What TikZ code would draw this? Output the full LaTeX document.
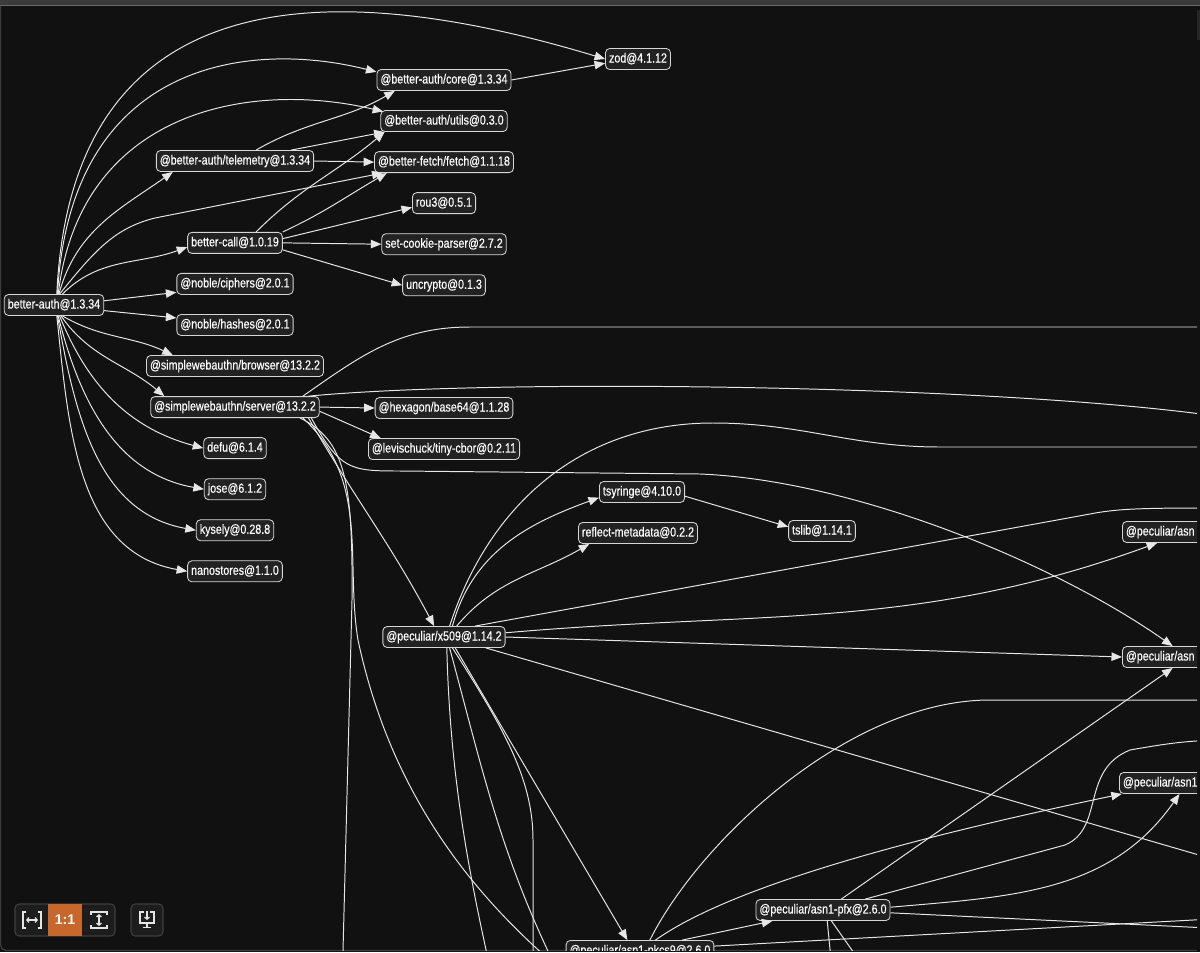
\documentclass[tikz,border=0pt]{standalone}
\usepackage{fontspec}
\usepackage{tikz}
\usetikzlibrary{positioning}
\usetikzlibrary{arrows.meta}
\setsansfont{Liberation Sans}
\newfontfamily\pkgfont[FakeStretch=0.81,FakeBold=0.4]{Liberation Sans}

\definecolor{canvas}{HTML}{111111}
\definecolor{topbar}{HTML}{3B3B3B}
\definecolor{pkgfill}{HTML}{222222}
\definecolor{pkgline}{HTML}{D6D6D6}
\definecolor{wirecol}{HTML}{E6E6E6}
\definecolor{btnline}{HTML}{3E3E3E}
\definecolor{btnfill}{HTML}{1D1D1D}
\definecolor{active}{HTML}{C7672B}

\begin{document}
\begin{tikzpicture}[x=0.025cm,y=-0.025cm,node distance=0.48cm,
    pkg/.style={draw=pkgline,fill=pkgfill,text=white,rounded corners=3pt,line width=0.6pt,
      inner xsep=2.5pt,inner ysep=0pt,minimum height=0.525cm,text height=7pt,text depth=2pt,
      font=\pkgfont\fontsize{9.4}{11}\selectfont},
    pkgcut/.style={pkg,anchor=west,text width=3.6cm,align=left},
    dep/.style={draw=wirecol,line width=0.7pt,-{Triangle[length=7.5pt,width=6pt]}},
    link/.style={draw=wirecol,line width=0.7pt},
    icon/.style={draw=white!90!black,line width=0.9pt}]
	\useasboundingbox (0,0) rectangle (1200,952);
	\fill[canvas] (0,0) rectangle (1200,952);
	\fill[topbar] (0,0) rectangle (1200,5);
	\draw[black!60!white,line width=0.6pt] (0,5.5) -- (1200,5.5);
	\fill[black!85!white] (1197,10) rectangle (1200,40);
	\draw[btnline,line width=0.8pt,rounded corners=4pt] (0.5,6) -- (0.5,950.5) -- (1197,950.5);

	\begin{scope}
		\clip (1,6) rectangle (1197,950);
		% packages
		\node[pkg] (ba) at (54,305) {better-auth@1.3.34};
		\node[pkg] (zod) at (638,59) {zod@4.1.12};
		\node[pkg] (core) at (444,80) {@better-auth/core@1.3.34};
		\node[pkg,below=of core] (utils) {@better-auth/utils@0.3.0};
		\node[pkg,below=of utils] (fetch) {@better-fetch/fetch@1.1.18};
		\node[pkg,below=of fetch] (rou) {rou3@0.5.1};
		\node[pkg,below=of rou] (scp) {set-cookie-parser@2.7.2};
		\node[pkg,below=of scp] (uncrypto) {uncrypto@0.1.3};
		\node[pkg] (tele) at (235,161) {@better-auth/telemetry@1.3.34};
		\node[pkg,below=1.5cm of tele] (call) {better-call@1.0.19};
		\node[pkg,below=of call] (ciphers) {@noble/ciphers@2.0.1};
		\node[pkg,below=of ciphers] (hashes) {@noble/hashes@2.0.1};
		\node[pkg,below=of hashes] (browser) {@simplewebauthn/browser@13.2.2};
		\node[pkg,below=of browser] (server) {@simplewebauthn/server@13.2.2};
		\node[pkg,below=of server] (defu) {defu@6.1.4};
		\node[pkg,below=of defu] (jose) {jose@6.1.2};
		\node[pkg,below=of jose] (kysely) {kysely@0.28.8};
		\node[pkg,below=of kysely] (nano) {nanostores@1.1.0};
		\node[pkg] (base64) at (444,408) {@hexagon/base64@1.1.28};
		\node[pkg,below=of base64] (cbor) {@levischuck/tiny-cbor@0.2.11};
		\node[pkg] (tsyringe) at (642,492) {tsyringe@4.10.0};
		\node[pkg] (reflect) at (638,533) {reflect-metadata@0.2.2};
		\node[pkg] (tslib) at (822,531) {tslib@1.14.1};
		\node[pkg] (x509) at (444,637) {@peculiar/x509@1.14.2};
		\node[pkgcut] (asnA) at (1122,532) {@peculiar/asn};
		\node[pkgcut] (asnB) at (1122,657) {@peculiar/asn};
		\node[pkgcut] (asnC) at (1119,783) {@peculiar/asn1};
		\node[pkg] (pfx) at (823,910) {@peculiar/asn1-pfx@2.6.0};
		\node[pkg] (pkcs9) at (640,951) {@peculiar/asn1-pkcs9@2.6.0};

		% ends outside the view
		\coordinate (rA) at (1230,327);
		\coordinate (rB) at (1230,418);
		\coordinate (rC) at (1230,447);
		\coordinate (rD) at (1230,508);
		\coordinate (rE) at (1230,700);
		\coordinate (rF) at (1230,740);
		\coordinate (rG) at (1230,864);
		\coordinate (rH) at (1230,918);
		\coordinate (rI) at (1230,929);
		\coordinate (bA) at (342,990);
		\coordinate (bB) at (586,990);
		\coordinate (bC) at (495,990);
		\coordinate (bD) at (567,990);
		\coordinate (bE) at (533,990);
		\coordinate (bF) at (834,990);
		\coordinate (bG) at (880,990);

		% better-auth
		\draw[dep] ([xshift=2pt]ba.north) .. controls (72,-40) and (360,-15) .. (zod.west);
		\draw[dep] ([xshift=2.5pt]ba.north) .. controls (70,60) and (250,40) .. ([yshift=-2pt]core.north west);
		\draw[dep] ([xshift=3pt]ba.north) .. controls (80,110) and (250,80) .. ([xshift=2pt,yshift=-1pt]utils.north west);
		\draw[dep] ([xshift=3.5pt]ba.north) to[out=75,in=215] ([xshift=12pt]tele.south west);
		\draw[dep] ([xshift=4pt]ba.north) .. controls (95,250) and (115,228) .. (155,218) -- ([xshift=6pt]fetch.south west);
		\draw[dep] ([xshift=6pt]ba.north) to[out=45,in=200] ([yshift=-3pt]call.west);
		\draw[dep] ([yshift=3pt]ba.east) -- ([yshift=-6pt]ciphers.west);
		\draw[dep] ([yshift=-4pt]ba.east) -- ([yshift=5pt]hashes.west);
		\draw[dep] ([xshift=6pt]ba.south) to[out=-30,in=155] ([xshift=19pt]browser.north west);
		\draw[dep] ([xshift=5pt]ba.south) to[out=-55,in=140] ([xshift=10pt]server.north west);
		\draw[dep] ([xshift=4pt]ba.south) to[out=-68,in=165] (defu.west);
		\draw[dep] ([xshift=3pt]ba.south) to[out=-76,in=170] (jose.west);
		\draw[dep] ([xshift=2.5pt]ba.south) to[out=-80,in=170] (kysely.west);
		\draw[dep] ([xshift=2pt]ba.south) to[out=-84,in=170] (nano.west);

		% telemetry, core, better-call
		\draw[dep] ([xshift=15pt]tele.north) to[out=30,in=210] ([xshift=13pt]core.south west);
		\draw[dep] ([xshift=40pt]tele.north) -- ([xshift=3pt]utils.south west);
		\draw[dep] (tele.east) -- (fetch.west);
		\draw[dep] (core.east) -- ([yshift=-3pt]zod.west);
		\draw[dep] ([xshift=15pt]call.north) to[out=45,in=220] ([xshift=3pt]utils.south west);
		\draw[dep] (call.north east) to[out=25,in=210] ([xshift=9pt]fetch.south west);
		\draw[dep] ([yshift=3pt]call.east) -- ([yshift=-3pt]rou.west);
		\draw[dep] (call.east) -- (scp.west);
		\draw[dep] ([yshift=-5pt]call.east) -- (uncrypto.west);

		% simplewebauthn/server
		\draw[dep] (server.east) -- (base64.west);
		\draw[dep] ([yshift=-3pt]server.east) -- ([xshift=9pt]cbor.north west);
		\draw[dep] ([xshift=-12pt]server.north east) to[out=35,in=180] (470,327) -- (rA);
		\draw[dep] ([xshift=-8pt]server.north east) .. controls (500,378) and (1000,385) .. (rB);
		\draw[dep] ([xshift=-6pt]server.south east) .. controls (340,470) and (350,471) .. (400,471) -- (700,474)
			.. controls (850,480) and (1050,560) .. ([xshift=36pt]asnB.north west);
		\draw[dep] ([xshift=-8pt]server.south east) to[out=-60,in=118] ([xshift=-7pt]x509.north);
		\draw[link] ([xshift=-14pt]server.south east) .. controls (345,440) and (353,480) .. (352,600) -- (bA);
		\draw[link] ([xshift=-12pt]server.south east) .. controls (370,480) and (345,560) .. (358,640)
			.. controls (390,790) and (470,900) .. (bB);

		% x509
		\draw[dep] ([xshift=6pt]x509.north) to[out=75,in=200] ([yshift=-4pt]tsyringe.west);
		\draw[dep] ([xshift=9pt]x509.north) to[out=50,in=210] ([xshift=8pt]reflect.south west);
		\draw[link] ([xshift=4pt]x509.north) to[out=72,in=180] (713,423) to[out=0,in=180] (940,447) -- (rC);
		\draw[link] ([xshift=22pt]x509.north) -- (1090,514) .. controls (1120,508) and (1150,508) .. (rD);
		\draw[dep] ([yshift=3pt]x509.east) to[out=5,in=200] ([xshift=25pt]asnA.south west);
		\draw[dep] (x509.east) -- (asnB.west);
		\draw[link] ([xshift=-14pt]x509.south east) -- (rG);
		\draw[dep] ([xshift=8pt]x509.south) -- ([xshift=-9pt]pkcs9.north);
		\draw[link] ([xshift=2pt]x509.south) .. controls (450,780) and (470,880) .. (bC);
		\draw[link] ([xshift=4pt]x509.south) to[out=-75,in=117] (bD);
		\draw[link] ([xshift=6pt]x509.south) .. controls (505,730) and (533,780) .. (533,840) -- (bE);
		\draw[dep] ([yshift=-3pt]tsyringe.east) -- ([yshift=3pt]tslib.west);

		% pkcs9, pfx
		\draw[dep] ([xshift=11pt]pkcs9.north) .. controls (740,880) and (950,830) .. ([xshift=2pt]asnC.south west);
		\draw[link] ([xshift=7pt]pkcs9.north) .. controls (700,840) and (850,700) .. (990,700) -- (rE);
		\draw[dep] ([xshift=30pt]pkcs9.north) -- ([xshift=12pt]pfx.south west);
		\draw[link] ([yshift=3.5pt]pkcs9.east) -- (rH);
		\draw[dep] ([xshift=13pt]pfx.north) -- ([xshift=36pt]asnB.south west);
		\draw[link] ([xshift=30pt]pfx.north) -- (1065,845) .. controls (1105,828) and (1080,770) .. (1130,750) to[out=10,in=180] (rF);
		\draw[dep] ([yshift=2pt]pfx.east) to[out=5,in=235] ([xshift=43pt]asnC.south west);
		\draw[link] ([yshift=-2pt]pfx.east) -- (rI);
		\draw[link] ([xshift=3pt]pfx.south) -- (bF);
		\draw[link] ([xshift=6pt]pfx.south) -- (bG);
	\end{scope}

	% view buttons
	\draw[btnline,fill=btnfill,rounded corners=3pt,line width=0.8pt] (15,904) rectangle (115,936);
	\node[fill=active,minimum width=0.85cm,minimum height=0.8cm,inner sep=0pt,text=white,
		font=\sffamily\bfseries\fontsize{10}{12}\selectfont] (one) at (65,920) {1:1};
	\coordinate (fitw) at (32,920);
	\coordinate (fith) at (99,920);
	\draw[icon] (26,912) -- (23,912) -- (23,928) -- (26,928);
	\draw[icon] (38,912) -- (41,912) -- (41,928) -- (38,928);
	\draw[icon,{Straight Barb[length=1.5pt,width=3.5pt]}-{Straight Barb[length=1.5pt,width=3.5pt]}] (26,920) -- (38,920);
	\draw[icon] (91,915) -- (91,912) -- (107,912) -- (107,915);
	\draw[icon] (91,925) -- (91,928) -- (107,928) -- (107,925);
	\draw[icon,{Straight Barb[length=1.5pt,width=3.5pt]}-{Straight Barb[length=1.5pt,width=3.5pt]}] (99,914) -- (99,926);
	\node[draw=btnline,fill=btnfill,rounded corners=3pt,line width=0.8pt,minimum width=0.8cm,minimum height=0.8cm] (save) at (147,920) {};
	\draw[icon] (144,912) -- (140,912) -- (140,923) -- (154,923) -- (154,912) -- (150,912);
	\draw[icon,-{Straight Barb[length=1.5pt,width=3.5pt]}] (147,911) -- (147,920);
	\draw[icon] (147,923) -- (147,927) (143,927.5) -- (151,927.5);
\end{tikzpicture}
\end{document}
